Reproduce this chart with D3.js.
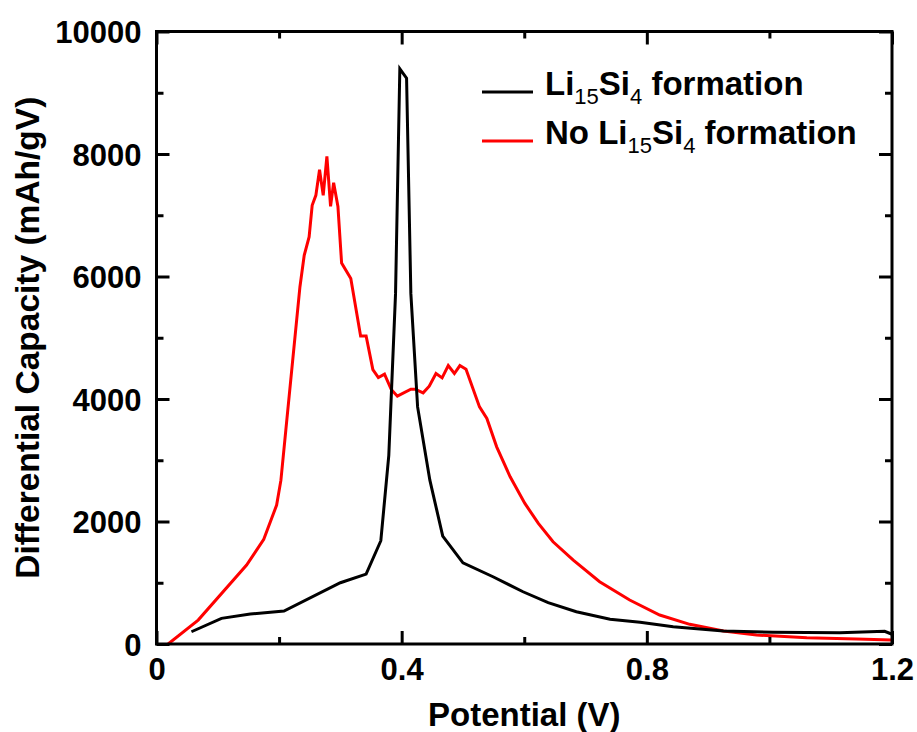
<!DOCTYPE html>
<html>
<head>
<meta charset="utf-8">
<script src="https://cdn.jsdelivr.net/npm/d3@7"></script>
<style>
  html, body { margin: 0; padding: 0; background: #fff; }
  svg { display: block; font-family: "Liberation Sans", Arial, sans-serif; }
</style>
</head>
<body>
<svg id="chart" width="917" height="732"></svg>
<script>
// Differential capacity (dQ/dV) vs potential for two silicon electrodes
const blackV = [0.057, 0.106, 0.153, 0.208, 0.300, 0.342, 0.366, 0.379, 0.390, 0.397, 0.408, 0.415, 0.426, 0.446, 0.467, 0.500, 0.549, 0.598, 0.639, 0.685, 0.740, 0.789, 0.843, 0.925, 1.006, 1.115, 1.188, 1.199];
const blackC = [200, 419, 490, 538, 1000, 1142, 1686, 3080, 5720, 9391, 9238, 5720, 3871, 2675, 1762, 1326, 1098, 853, 674, 527, 403, 354, 282, 212, 190, 184, 207, 163];

const redV = [0.019, 0.068, 0.147, 0.175, 0.196, 0.203, 0.211, 0.234, 0.241, 0.249, 0.254, 0.260, 0.266, 0.272, 0.278, 0.284, 0.289, 0.296, 0.302, 0.317, 0.333, 0.342, 0.353, 0.362, 0.372, 0.383, 0.393, 0.415, 0.422, 0.435, 0.445, 0.456, 0.466, 0.476, 0.486, 0.495, 0.505, 0.527, 0.539, 0.555, 0.577, 0.601, 0.623, 0.647, 0.680, 0.723, 0.772, 0.821, 0.870, 0.925, 0.979, 1.061, 1.142, 1.199];
const redC = [0, 391, 1289, 1708, 2268, 2675, 3491, 5829, 6346, 6645, 7162, 7325, 7744, 7325, 7961, 7145, 7532, 7145, 6220, 5966, 5030, 5030, 4481, 4351, 4405, 4155, 4046, 4160, 4160, 4100, 4209, 4416, 4345, 4546, 4416, 4546, 4486, 3871, 3682, 3219, 2729, 2295, 1969, 1669, 1370, 1016, 718, 473, 321, 212, 147, 103, 82, 65];

const xMajor = [0, 0.4, 0.8, 1.2];
const xMinor = [0.2, 0.6, 1.0];
const yMajor = [0, 2000, 4000, 6000, 8000, 10000];
const yMinor = [1000, 3000, 5000, 7000, 9000];

const svg = d3.select("#chart");
const plotL = 156.5, plotR = 892, plotT = 31.5, plotB = 644;

const x = d3.scaleLinear().domain([0, 1.2]).range([plotL, plotR]);
const y = d3.scaleLinear().domain([0, 10000]).range([plotB, plotT]);

const line = d3.line().x(d => x(d[0])).y(d => y(d[1]));

const series = [
  { v: blackV, c: blackC, color: "#000000" },
  { v: redV, c: redC, color: "#ff0000" }
];

// data curves
svg.append("defs").append("clipPath").attr("id", "plotClip")
  .append("rect").attr("x", plotL).attr("y", plotT)
  .attr("width", plotR - plotL).attr("height", plotB - plotT);

const plot = svg.append("g").attr("clip-path", "url(#plotClip)");
// red drawn first, black on top
[series[1], series[0]].forEach(s => {
  plot.append("path")
    .datum(d3.zip(s.v, s.c))
    .attr("d", line)
    .attr("fill", "none")
    .attr("stroke", s.color)
    .attr("stroke-width", 3)
    .attr("stroke-linejoin", "miter");
});

// axes with inward ticks
const fontTick = "bold 31px 'Liberation Sans', Arial, sans-serif";
const majorLen = 13, minorLen = 7;

function styleAxis(g) {
  g.select(".domain").remove();
  g.selectAll(".tick line").attr("stroke", "#000").attr("stroke-width", 3);
}

// bottom
svg.append("g").attr("transform", `translate(0,${plotB})`)
  .call(d3.axisBottom(x).tickValues(xMajor).tickSize(-majorLen).tickPadding(0)
    .tickFormat(d => d === 0 ? "0" : d3.format(".1f")(d)))
  .call(styleAxis)
  .call(g => g.selectAll(".tick text")
    .attr("y", 36).attr("dy", null)
    .style("font", fontTick).attr("fill", "#000"));
svg.append("g").attr("transform", `translate(0,${plotB})`)
  .call(d3.axisBottom(x).tickValues(xMinor).tickSize(-minorLen).tickFormat(""))
  .call(styleAxis);

// top
svg.append("g").attr("transform", `translate(0,${plotT})`)
  .call(d3.axisTop(x).tickValues(xMajor).tickSize(-majorLen).tickFormat(""))
  .call(styleAxis);
svg.append("g").attr("transform", `translate(0,${plotT})`)
  .call(d3.axisTop(x).tickValues(xMinor).tickSize(-minorLen).tickFormat(""))
  .call(styleAxis);

// left
svg.append("g").attr("transform", `translate(${plotL},0)`)
  .call(d3.axisLeft(y).tickValues(yMajor).tickSize(-majorLen).tickPadding(0)
    .tickFormat(d3.format("d")))
  .call(styleAxis)
  .call(g => g.selectAll(".tick text")
    .attr("x", -15).attr("dy", "0.36em")
    .style("font", fontTick).attr("fill", "#000"));
svg.append("g").attr("transform", `translate(${plotL},0)`)
  .call(d3.axisLeft(y).tickValues(yMinor).tickSize(-minorLen).tickFormat(""))
  .call(styleAxis);

// right
svg.append("g").attr("transform", `translate(${plotR},0)`)
  .call(d3.axisRight(y).tickValues(yMajor).tickSize(-majorLen).tickFormat(""))
  .call(styleAxis);
svg.append("g").attr("transform", `translate(${plotR},0)`)
  .call(d3.axisRight(y).tickValues(yMinor).tickSize(-minorLen).tickFormat(""))
  .call(styleAxis);

// frame
svg.append("rect")
  .attr("x", plotL).attr("y", plotT)
  .attr("width", plotR - plotL).attr("height", plotB - plotT)
  .attr("fill", "none").attr("stroke", "#000").attr("stroke-width", 3);

// axis titles
svg.append("text")
  .attr("x", (plotL + plotR) / 2).attr("y", 726)
  .attr("text-anchor", "middle")
  .style("font", "bold 33px 'Liberation Sans', Arial, sans-serif")
  .text("Potential (V)");

svg.append("text")
  .attr("transform", `translate(39,${(plotT + plotB) / 2}) rotate(-90)`)
  .attr("text-anchor", "middle")
  .style("font", "bold 33.5px 'Liberation Sans', Arial, sans-serif")
  .text("Differential Capacity (mAh/gV)");

// legend
const legend = svg.append("g");
const legendRows = [
  { prefix: "", color: "#000000", y: 92 },
  { prefix: "No ", color: "#ff0000", y: 141 }
];
legendRows.forEach(r => {
  legend.append("line")
    .attr("x1", 482).attr("x2", 533)
    .attr("y1", r.y).attr("y2", r.y)
    .attr("stroke", r.color).attr("stroke-width", 3);
  const t = legend.append("text")
    .attr("x", 545).attr("y", r.y + 3)
    .style("font", "bold 33px 'Liberation Sans', Arial, sans-serif")
    .attr("fill", "#000");
  t.append("tspan").text(r.prefix + "Li");
  t.append("tspan").attr("dy", 9).style("font-size", "22px").style("font-weight", "normal").text("15");
  t.append("tspan").attr("dy", -9).text("Si");
  t.append("tspan").attr("dy", 9).style("font-size", "22px").style("font-weight", "normal").text("4");
  t.append("tspan").attr("dy", -9).text(" formation");
});
</script>
</body>
</html>
